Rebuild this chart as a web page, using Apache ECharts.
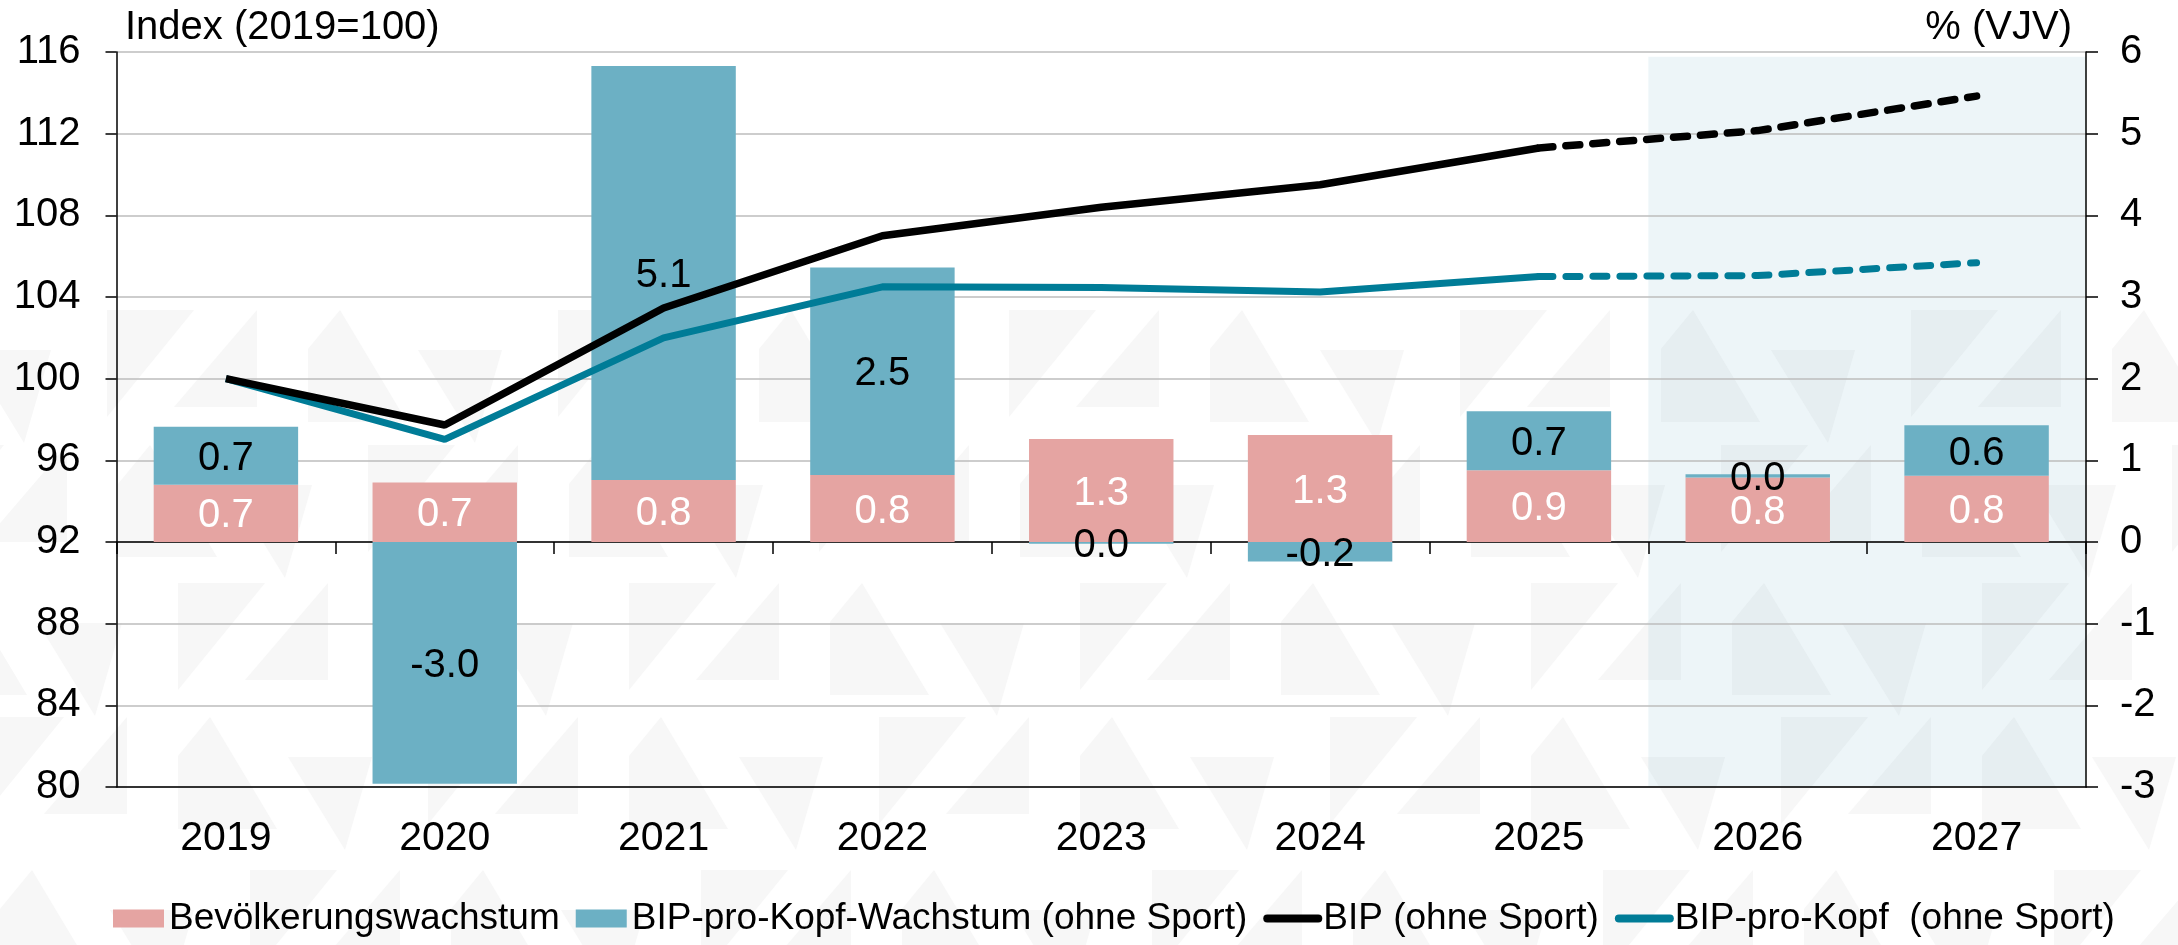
<!DOCTYPE html>
<html>
<head>
<meta charset="utf-8">
<script src="https://cdn.jsdelivr.net/npm/echarts@6/dist/echarts.min.js"></script>
<style>
  html, body { margin: 0; padding: 0; background: #ffffff; }
  #chart { width: 2178px; height: 945px; }
</style>
</head>
<body>
<div id="chart"></div>
<script>
// ---------- data ----------
const years = ['2019', '2020', '2021', '2022', '2023', '2024', '2025', '2026', '2027'];
const forecastYears = ['2026', '2027'];
const lastActualYear = '2025';

// % change on previous year (right axis)
const populationGrowth = [0.70, 0.73, 0.76, 0.82, 1.26, 1.31, 0.88, 0.79, 0.81];
const perCapitaGrowth  = [0.71, -2.96, 5.07, 2.54, -0.02, -0.24, 0.72, 0.04, 0.62];

// Index 2019 = 100 (left axis)
const gdpIndex          = [100, 97.73, 103.46, 107.0, 108.4, 109.5, 111.3, 112.15, 113.84];
const gdpPerCapitaIndex = [100, 97.03, 102.0, 104.5, 104.47, 104.24, 105.0, 105.05, 105.68];

const leftAxisTicks  = { min: 80, max: 116, interval: 4 };
const rightAxisTicks = { min: -3, max: 6, interval: 1 };

const names = {
  pop: 'Bevölkerungswachstum',
  pcg: 'BIP-pro-Kopf-Wachstum (ohne Sport)',
  gdp: 'BIP (ohne Sport)',
  gdppc: 'BIP-pro-Kopf  (ohne Sport)'
};

// ---------- helpers ----------
const FONT = '"Liberation Sans", Arial, Helvetica, sans-serif';
const cut = years.indexOf(lastActualYear);
const solidPart  = arr => arr.map((v, i) => (i <= cut ? v : '-'));
const dashedPart = arr => arr.map((v, i) => (i >= cut ? v : '-'));
const fmt = p => { let s = Number(p.value).toFixed(1); if (s === '-0.0') s = '0.0'; return s; };

// faint background watermark (decorative pattern of "Λ", "V", "Z" shapes)
function watermark() {
  const els = [];
  const unit = 451;
  const rows = [ {top: 310, start: 308}, {top: 445, start: 118}, {top: 583, start: 379},
                 {top: 717, start: 178}, {top: 870, start: 0} ];
  const shapes = [
    [[0, 39], [32, 0], [99, 112], [0, 112]],          // Λ
    [[110, 40], [194, 40], [167, 133]],               // V
    [[250, 0], [337, 0], [250, 107]],                 // Z (upper part)
    [[400, 0], [400, 97], [317, 97]]                  // Z (lower part)
  ];
  rows.forEach(r => {
    for (let x0 = r.start - unit * 2; x0 < 2178 + unit; x0 += unit) {
      shapes.forEach(s => els.push({
        type: 'polygon', silent: true, z: -20,
        shape: { points: s.map(p => [x0 + p[0], r.top + p[1]]) },
        style: { fill: '#F7F7F7' }
      }));
    }
  });
  return els;
}

const chart = echarts.init(document.getElementById('chart'), null, { renderer: 'canvas' });

const barLabelBase = { show: true, position: 'inside', fontSize: 40, fontFamily: FONT, formatter: fmt, offset: [0, 3] };
const lineLegendItem = { itemStyle: { opacity: 0 }, lineStyle: { width: 8, cap: 'round' } };

const option = {
  animation: false,
  backgroundColor: '#ffffff',
  textStyle: { fontFamily: FONT, color: '#000' },
  graphic: { elements: watermark() },
  title: [
    { text: 'Index (2019=100)', left: 120, top: 3,
      textStyle: { fontSize: 40, fontWeight: 'normal', color: '#000', fontFamily: FONT } },
    { text: '% (VJV)', right: 101, top: 3,
      textStyle: { fontSize: 40, fontWeight: 'normal', color: '#000', fontFamily: FONT } }
  ],
  grid: { left: 116.5, right: 92, top: 52, bottom: 158, containLabel: false },
  legend: {
    left: 108, top: 895,
    itemWidth: 51, itemHeight: 18, itemGap: 16,
    textStyle: { fontSize: 37, color: '#000', fontFamily: FONT },
    lineStyle: { width: 8, cap: 'round' },
    data: [
      { name: names.pop, icon: 'rect' },
      { name: names.pcg, icon: 'rect' },
      { name: names.gdp, ...lineLegendItem },
      { name: names.gdppc, ...lineLegendItem }
    ]
  },
  xAxis: [
    {
      type: 'category', data: years, boundaryGap: true,
      axisLine: { show: true, lineStyle: { color: '#000', width: 1.5 } },
      axisTick: { show: true, interval: 0, length: 12, inside: false, lineStyle: { color: '#000', width: 1.5 } },
      axisLabel: { fontSize: 41, color: '#000', margin: 31, fontFamily: FONT, interval: 0 },
      splitLine: { show: false }
    },
    { // top frame line
      type: 'category', data: years, position: 'top',
      axisLine: { show: true, lineStyle: { color: '#000', width: 1.5 } },
      axisTick: { show: false }, axisLabel: { show: false }, splitLine: { show: false }
    },
    { // helper axis for the forecast shading
      type: 'category', data: years, show: false
    }
  ],
  yAxis: [
    {
      type: 'value', position: 'left', ...leftAxisTicks,
      axisLine: { show: true, lineStyle: { color: '#000', width: 1.5 } },
      axisTick: { show: true, length: 11, inside: false, lineStyle: { color: '#000', width: 1.5 } },
      axisLabel: { fontSize: 40, color: '#000', margin: 36, fontFamily: FONT },
      splitLine: { show: true, lineStyle: { color: '#BDBDBD', width: 1.5 } }
    },
    {
      type: 'value', position: 'right', ...rightAxisTicks,
      axisLine: { show: true, lineStyle: { color: '#000', width: 1.5 } },
      axisTick: { show: true, length: 12, inside: false, lineStyle: { color: '#000', width: 1.5 } },
      axisLabel: { fontSize: 40, color: '#000', margin: 34, fontFamily: FONT },
      splitLine: { show: false }
    },
    { type: 'value', min: 0, max: 1.0065, show: false }
  ],
  series: [
    { // forecast shading
      name: 'forecast', type: 'bar', xAxisIndex: 2, yAxisIndex: 2,
      barWidth: '100%', silent: true, z: -1,
      itemStyle: { color: 'rgba(107,175,195,0.12)' },
      data: years.map(y => (forecastYears.includes(y) ? 1 : '-'))
    },
    {
      name: names.pop, type: 'bar', stack: 'growth', yAxisIndex: 1, barWidth: '66%',
      itemStyle: { color: '#E5A4A2' },
      label: { ...barLabelBase, color: '#ffffff' },
      data: populationGrowth
    },
    {
      name: names.pcg, type: 'bar', stack: 'growth', yAxisIndex: 1, barWidth: '66%',
      itemStyle: { color: '#6CB0C4' },
      label: { ...barLabelBase, color: '#000000' },
      data: perCapitaGrowth
    },
    {
      name: names.gdp, type: 'line', yAxisIndex: 0, symbol: 'none', z: 5,
      lineStyle: { color: '#000000', width: 7.5 }, itemStyle: { color: '#000000' },
      data: solidPart(gdpIndex)
    },
    {
      name: names.gdp, type: 'line', yAxisIndex: 0, symbol: 'none', z: 5,
      lineStyle: { color: '#000000', width: 7.5, type: [14, 13], cap: 'round' }, itemStyle: { color: '#000000' },
      data: dashedPart(gdpIndex)
    },
    {
      name: names.gdppc, type: 'line', yAxisIndex: 0, symbol: 'none', z: 4,
      lineStyle: { color: '#007C97', width: 7 }, itemStyle: { color: '#007C97' },
      data: solidPart(gdpPerCapitaIndex)
    },
    {
      name: names.gdppc, type: 'line', yAxisIndex: 0, symbol: 'none', z: 4,
      lineStyle: { color: '#007C97', width: 7, type: [14, 13], cap: 'round' }, itemStyle: { color: '#007C97' },
      data: dashedPart(gdpPerCapitaIndex)
    }
  ]
};

chart.setOption(option);
</script>
</body>
</html>
